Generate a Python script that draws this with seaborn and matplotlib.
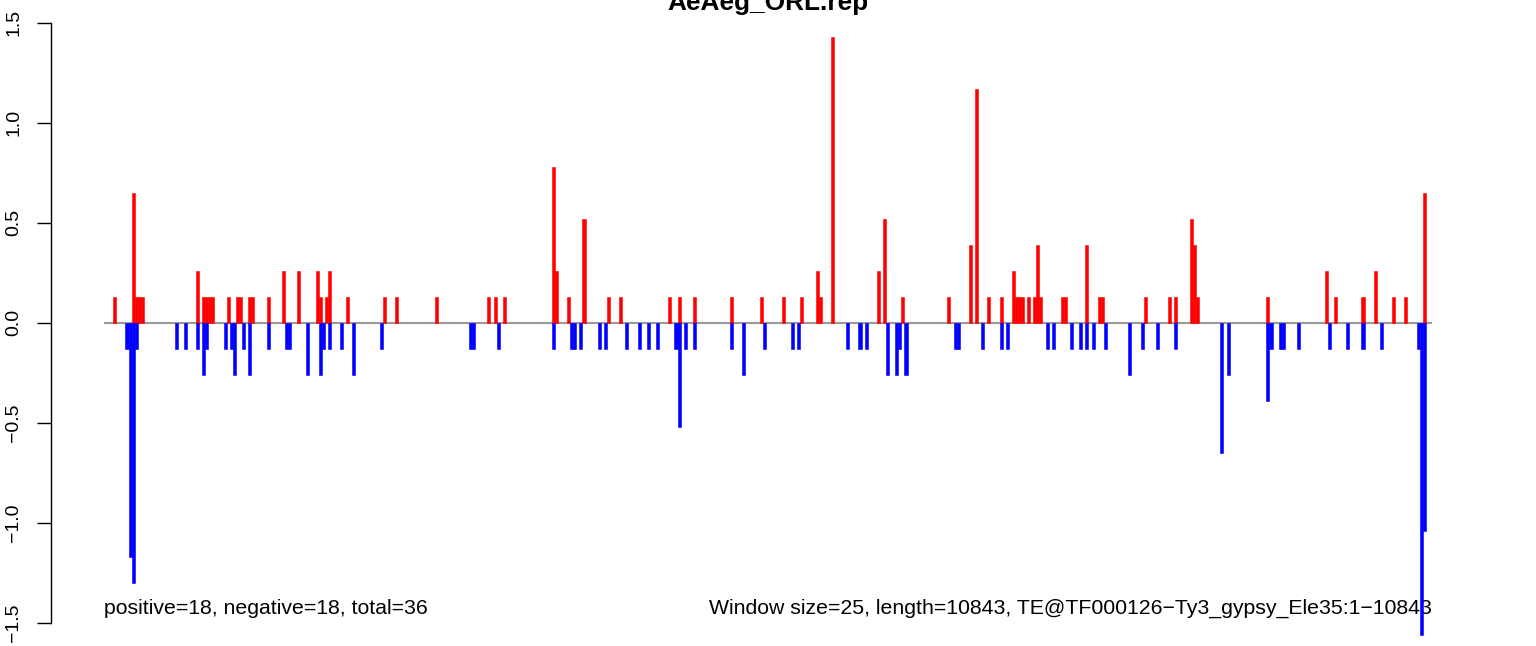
import matplotlib
matplotlib.use("Agg")
import matplotlib.pyplot as plt
import seaborn as sns
import pandas as pd

# ---- data (window index, value) ----
title = "AeAeg_ORL.rep"
left_note = "positive=18, negative=18, total=36"
right_note = "Window size=25, length=10843, TE@TF000126\u2212Ty3_gypsy_Ele35:1\u221210843"
n_windows = 433

pos_idx = [3, 9, 10, 11, 12, 30, 32, 33, 34, 35, 40, 43, 44, 47, 48, 53, 58, 63, 69, 70,
           72, 73, 79, 91, 95, 108, 125, 127, 130, 146, 147, 151, 156, 164, 168, 184, 187,
           192, 204, 214, 221, 227, 232, 233, 237, 252, 254, 260, 275, 282, 284, 288, 292,
           296, 297, 298, 299, 301, 303, 304, 305, 312, 313, 320, 324, 325, 339, 347, 349,
           354, 355, 356, 379, 398, 401, 410, 414, 420, 424, 430]
pos_val = [0.13, 0.65, 0.13, 0.13, 0.13, 0.26, 0.13, 0.13, 0.13, 0.13, 0.13, 0.13, 0.13, 0.13, 0.13, 0.13, 0.26, 0.26, 0.26, 0.13,
           0.13, 0.26, 0.13, 0.13, 0.13, 0.13, 0.13, 0.13, 0.13, 0.78, 0.26, 0.13, 0.52, 0.13, 0.13, 0.13, 0.13,
           0.13, 0.13, 0.13, 0.13, 0.13, 0.26, 0.13, 1.43, 0.26, 0.52, 0.13, 0.13, 0.39, 1.17, 0.13, 0.13,
           0.26, 0.13, 0.13, 0.13, 0.13, 0.13, 0.39, 0.13, 0.13, 0.13, 0.39, 0.13, 0.13, 0.13, 0.13, 0.13,
           0.52, 0.39, 0.13, 0.13, 0.26, 0.13, 0.13, 0.26, 0.13, 0.13, 0.65]

neg_idx = [7, 8, 9, 10, 23, 26, 30, 32, 33, 39, 41, 42, 45, 47, 53, 59, 60, 66, 70, 71,
           73, 77, 81, 90, 119, 120, 128, 146, 152, 153, 155, 161, 163, 170, 174, 177, 180,
           186, 187, 189, 192, 204, 208, 215, 224, 226, 242, 246, 248, 255, 258, 259, 261,
           277, 278, 286, 292, 294, 307, 309, 315, 318, 320, 322, 326, 334, 338, 343, 349,
           364, 366, 379, 380, 383, 384, 389, 399, 405, 410, 416, 428, 429, 430]
neg_val = [-0.13, -1.17, -1.30, -0.13, -0.13, -0.13, -0.13, -0.26, -0.13, -0.13, -0.13, -0.26, -0.13, -0.26, -0.13, -0.13, -0.13, -0.26, -0.26, -0.13,
           -0.13, -0.13, -0.26, -0.13, -0.13, -0.13, -0.13, -0.13, -0.13, -0.13, -0.13, -0.13, -0.13, -0.13, -0.13, -0.13, -0.13,
           -0.13, -0.52, -0.13, -0.13, -0.13, -0.26, -0.13, -0.13, -0.13, -0.13, -0.13, -0.13, -0.26, -0.26, -0.13, -0.26,
           -0.13, -0.13, -0.13, -0.13, -0.13, -0.13, -0.13, -0.13, -0.13, -0.13, -0.13, -0.13, -0.26, -0.13, -0.13, -0.13,
           -0.65, -0.26, -0.39, -0.13, -0.13, -0.13, -0.13, -0.13, -0.13, -0.13, -0.13, -0.13, -1.56, -1.04]

yticks = [-1.5, -1.0, -0.5, 0.0, 0.5, 1.0, 1.5]
ytick_labels = ["\u22121.5", "\u22121.0", "\u22120.5", "0.0", "0.5", "1.0", "1.5"]

# ---- style ----
sns.set_style("white")
plt.rcParams["font.family"] = ["Liberation Sans", "DejaVu Sans"]
plt.rcParams["text.color"] = "black"
plt.rcParams["ytick.color"] = "black"
plt.rcParams["ytick.labelcolor"] = "black"
plt.rcParams["axes.labelcolor"] = "black"

W, H = 1536, 646
fig = plt.figure(figsize=(W / 100, H / 100), dpi=100)
ax_left, ax_right = 51, 1485
ax = fig.add_axes([ax_left / W, 0, (ax_right - ax_left) / W, 1])

df_pos = pd.DataFrame({"win": pos_idx, "val": pos_val})
df_neg = pd.DataFrame({"win": neg_idx, "val": neg_val})

sns.barplot(data=df_pos, x="win", y="val", native_scale=True, width=1.0,
            color="#ff0000", saturation=1, errorbar=None, linewidth=0.4,
            edgecolor="#ff0000", ax=ax, zorder=2)
sns.barplot(data=df_neg, x="win", y="val", native_scale=True, width=1.0,
            color="#0000ff", saturation=1, errorbar=None, linewidth=0.4,
            edgecolor="#0000ff", ax=ax, zorder=2)

# baseline across the data range
x0, x1 = -0.5, n_windows - 0.5
ax.hlines(0, x0, x1, color="#9a9a9a", lw=1.5, zorder=1)

# axes geometry to match the reference pixels
px_per_win = (1432 - 104) / n_windows
ax.set_xlim(x0 - (104 - ax_left) / px_per_win, x1 + (ax_right - 1432) / px_per_win)
zero_px, px_per_unit = 322.7, 200.0
ax.set_ylim(-(H - zero_px) / px_per_unit, zero_px / px_per_unit)

for s in ["top", "right", "bottom"]:
    ax.spines[s].set_visible(False)
ax.spines["left"].set_bounds(-1.5, 1.5)
ax.spines["left"].set_linewidth(1.0)
ax.spines["left"].set_color("black")
ax.set_xticks([])
ax.set_xlabel("")
ax.set_ylabel("")
ax.set_yticks(yticks)
ax.set_yticklabels(ytick_labels)
ax.tick_params(axis="y", direction="out", length=9.8, width=1.0, pad=11,
               labelsize=14, left=True, color="black", labelcolor="black")
for lab in ax.get_yticklabels():
    lab.set_rotation(90)
    lab.set_va("center")
    lab.set_ha("right")

# notes
y_note = (zero_px - 614) / px_per_unit
ax.text(x0, y_note, left_note, ha="left", va="baseline", fontsize=15.3,
        color="black", zorder=0.5)
ax.text(x1, y_note, right_note, ha="right", va="baseline", fontsize=15.3,
        color="black", zorder=0.5)

fig.text(768 / W, 1 - 10 / H, title, ha="center", va="baseline",
         fontsize=18.9, fontweight="bold", color="black")

fig.savefig("out.png", dpi=100)
